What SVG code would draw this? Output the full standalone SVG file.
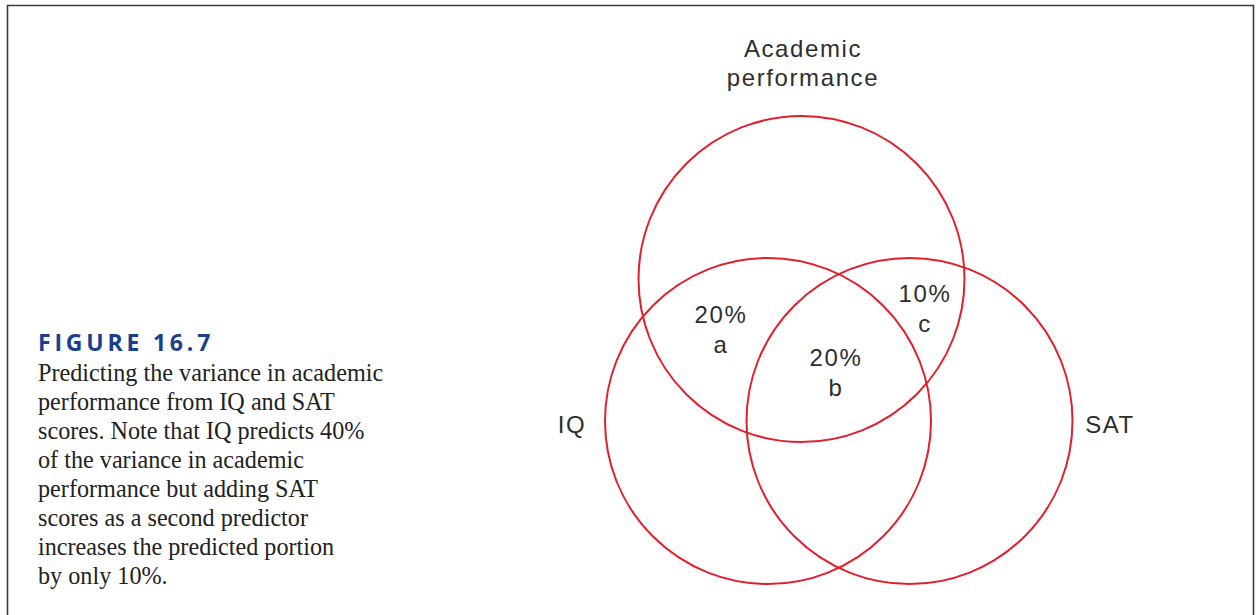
<svg xmlns="http://www.w3.org/2000/svg" width="1258" height="615" viewBox="0 0 1258 615">
<style>
.frame{fill:none;stroke:#3a3a3a;stroke-width:1.6}
.circ{fill:none;stroke:#e0202c;stroke-width:2}
.lbl{font-family:"Liberation Sans",Arial,sans-serif;font-size:24px;fill:#2e2e2e;text-anchor:middle;letter-spacing:1.6px}
.cap{font-family:"Liberation Serif","Times New Roman",serif;font-size:24.2px;fill:#222}
.fig{font-family:"Open Sans","Liberation Sans",sans-serif;font-size:23px;font-weight:bold;fill:#1c3e8f;letter-spacing:3.8px}
</style>
<rect width="1258" height="615" fill="#fff"/>
<path class="frame" d="M7.5 620 V5.5 H1253.5 V620"/>
<g id="caption">
<text class="fig" x="38" y="351">FIGURE 16.7</text>
<text class="cap" x="38" y="381">Predicting the variance in academic</text>
<text class="cap" x="38" y="410">performance from IQ and SAT</text>
<text class="cap" x="38" y="439">scores. Note that IQ predicts 40%</text>
<text class="cap" x="38" y="468">of the variance in academic</text>
<text class="cap" x="38" y="497">performance but adding SAT</text>
<text class="cap" x="38" y="526">scores as a second predictor</text>
<text class="cap" x="38" y="555">increases the predicted portion</text>
<text class="cap" x="38" y="584">by only 10%.</text>
</g>
<g id="academic">
<circle class="circ" cx="801.5" cy="279" r="163"/>
<text class="lbl" x="803" y="57">Academic</text>
<text class="lbl" x="803" y="86">performance</text>
</g>
<g id="iq">
<circle class="circ" cx="768" cy="421" r="163"/>
<text class="lbl" x="572" y="433">IQ</text>
</g>
<g id="sat">
<circle class="circ" cx="909.5" cy="421" r="163"/>
<text class="lbl" x="1110" y="433">SAT</text>
</g>
<g id="region-a">
<text class="lbl" x="721" y="323">20%</text>
<text class="lbl" x="721" y="353">a</text>
</g>
<g id="region-b">
<text class="lbl" x="836" y="366">20%</text>
<text class="lbl" x="836" y="396">b</text>
</g>
<g id="region-c">
<text class="lbl" x="925" y="302">10%</text>
<text class="lbl" x="925" y="332">c</text>
</g>
<g id="connectors"></g>
</svg>
